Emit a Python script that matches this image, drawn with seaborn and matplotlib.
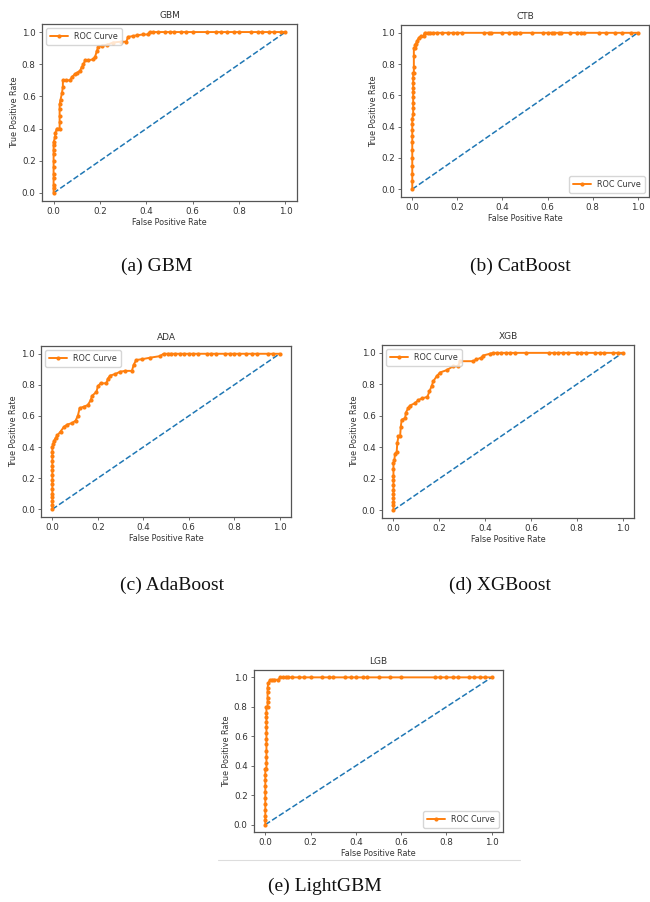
#--------------------------------------------
# ROC curves for the five boosting models,
# laid out as a 2-2-1 figure with captions.
#--------------------------------------------

import matplotlib
matplotlib.use("Agg")
import matplotlib.pyplot as plt
import seaborn as sns
from matplotlib.lines import Line2D

#--------------------DATA----------------------------

# (false positive rate, true positive rate)

gbm_points = [(0, 0), (0, 0.03), (0, 0.05), (0, 0.09), (0, 0.12), (0, 0.16),
              (0, 0.2), (0, 0.24), (0, 0.27), (0, 0.3), (0, 0.315),
              (0.007, 0.35), (0.007, 0.37), (0.014, 0.40), (0.026, 0.40),
              (0.026, 0.44), (0.026, 0.48), (0.026, 0.52), (0.026, 0.55),
              (0.03, 0.58), (0.036, 0.62), (0.04, 0.66), (0.04, 0.70),
              (0.055, 0.70), (0.071, 0.70), (0.079, 0.72), (0.093, 0.74),
              (0.10, 0.745), (0.114, 0.76), (0.121, 0.78), (0.129, 0.80),
              (0.136, 0.825), (0.15, 0.825), (0.171, 0.83), (0.179, 0.846),
              (0.186, 0.88), (0.193, 0.91), (0.21, 0.915), (0.229, 0.92),
              (0.257, 0.935), (0.29, 0.94), (0.314, 0.94), (0.321, 0.97),
              (0.343, 0.975), (0.36, 0.98), (0.386, 0.985), (0.407, 0.985),
              (0.414, 1.0), (0.43, 1.0), (0.45, 1.0), (0.48, 1.0), (0.5, 1.0),
              (0.52, 1.0), (0.55, 1.0), (0.57, 1.0), (0.6, 1.0), (0.66, 1.0),
              (0.7, 1.0), (0.72, 1.0), (0.75, 1.0), (0.78, 1.0), (0.8, 1.0),
              (0.85, 1.0), (0.88, 1.0), (0.9, 1.0), (0.93, 1.0), (0.95, 1.0),
              (0.98, 1.0), (1.0, 1.0)]

ctb_points = [(0, 0), (0, 0.05), (0, 0.1), (0, 0.15), (0, 0.2), (0, 0.25),
              (0, 0.3), (0, 0.34), (0, 0.38), (0, 0.42), (0, 0.45),
              (0.004, 0.48), (0.004, 0.52), (0.004, 0.55), (0.004, 0.59),
              (0.004, 0.62), (0.004, 0.65), (0.004, 0.68), (0.004, 0.71),
              (0.004, 0.74), (0.007, 0.74), (0.007, 0.78), (0.007, 0.85),
              (0.007, 0.90), (0.012, 0.90), (0.012, 0.92), (0.016, 0.93),
              (0.022, 0.95), (0.03, 0.97), (0.04, 0.98), (0.05, 0.98),
              (0.055, 1.0), (0.07, 1.0), (0.08, 1.0), (0.09, 1.0), (0.11, 1.0),
              (0.13, 1.0), (0.16, 1.0), (0.18, 1.0), (0.2, 1.0), (0.22, 1.0),
              (0.32, 1.0), (0.34, 1.0), (0.35, 1.0), (0.4, 1.0), (0.43, 1.0),
              (0.45, 1.0), (0.46, 1.0), (0.48, 1.0), (0.53, 1.0), (0.58, 1.0),
              (0.6, 1.0), (0.62, 1.0), (0.63, 1.0), (0.65, 1.0), (0.66, 1.0),
              (0.7, 1.0), (0.73, 1.0), (0.75, 1.0), (0.76, 1.0), (0.83, 1.0),
              (0.86, 1.0), (0.9, 1.0), (0.93, 1.0), (0.97, 1.0), (1.0, 1.0)]

ada_points = [(0, 0), (0, 0.03), (0, 0.05), (0, 0.08), (0, 0.1), (0, 0.13),
              (0, 0.16), (0, 0.19), (0, 0.22), (0, 0.25), (0, 0.28),
              (0, 0.31), (0, 0.34), (0, 0.37), (0, 0.40), (0.004, 0.42),
              (0.007, 0.44), (0.015, 0.46), (0.022, 0.475), (0.036, 0.50),
              (0.051, 0.53), (0.066, 0.545), (0.088, 0.555), (0.102, 0.57),
              (0.112, 0.60), (0.12, 0.65), (0.139, 0.66), (0.156, 0.67),
              (0.168, 0.70), (0.175, 0.73), (0.194, 0.755), (0.20, 0.79),
              (0.212, 0.81), (0.238, 0.81), (0.244, 0.84), (0.255, 0.86),
              (0.277, 0.87), (0.299, 0.885), (0.321, 0.89), (0.35, 0.89),
              (0.358, 0.93), (0.369, 0.96), (0.394, 0.965), (0.431, 0.975),
              (0.474, 0.985), (0.489, 1.0), (0.51, 1.0), (0.52, 1.0),
              (0.54, 1.0), (0.56, 1.0), (0.58, 1.0), (0.6, 1.0), (0.62, 1.0),
              (0.64, 1.0), (0.68, 1.0), (0.7, 1.0), (0.72, 1.0), (0.76, 1.0),
              (0.78, 1.0), (0.8, 1.0), (0.82, 1.0), (0.85, 1.0), (0.88, 1.0),
              (0.9, 1.0), (0.95, 1.0), (0.97, 1.0), (1.0, 1.0)]

xgb_points = [(0, 0), (0, 0.03), (0, 0.05), (0, 0.08), (0, 0.1), (0, 0.13),
              (0, 0.16), (0, 0.19), (0, 0.22), (0, 0.26), (0, 0.30),
              (0.004, 0.32), (0.007, 0.36), (0.014, 0.37), (0.017, 0.43),
              (0.022, 0.47), (0.029, 0.47), (0.032, 0.53), (0.036, 0.575),
              (0.051, 0.585), (0.054, 0.62), (0.065, 0.65), (0.072, 0.665),
              (0.094, 0.68), (0.109, 0.70), (0.123, 0.71), (0.148, 0.72),
              (0.157, 0.755), (0.167, 0.79), (0.174, 0.82), (0.188, 0.85),
              (0.203, 0.875), (0.232, 0.89), (0.261, 0.915), (0.283, 0.915),
              (0.29, 0.947), (0.348, 0.947), (0.362, 0.958), (0.384, 0.97),
              (0.391, 0.983), (0.42, 0.994), (0.435, 1.0), (0.45, 1.0),
              (0.47, 1.0), (0.49, 1.0), (0.51, 1.0), (0.53, 1.0), (0.58, 1.0),
              (0.68, 1.0), (0.7, 1.0), (0.72, 1.0), (0.74, 1.0), (0.76, 1.0),
              (0.8, 1.0), (0.82, 1.0), (0.84, 1.0), (0.88, 1.0), (0.9, 1.0),
              (0.92, 1.0), (0.96, 1.0), (0.98, 1.0), (1.0, 1.0)]

lgb_points = [(0, 0), (0, 0.03), (0, 0.06), (0, 0.1), (0, 0.14), (0, 0.18),
              (0, 0.22), (0, 0.26), (0, 0.30), (0, 0.34), (0, 0.38),
              (0.005, 0.38), (0.005, 0.42), (0.005, 0.46), (0.005, 0.5),
              (0.005, 0.55), (0.005, 0.58), (0.005, 0.62), (0.005, 0.66),
              (0.005, 0.70), (0.005, 0.73), (0.005, 0.76), (0.005, 0.80),
              (0.01, 0.80), (0.01, 0.83), (0.01, 0.86), (0.01, 0.9),
              (0.01, 0.93), (0.013, 0.96), (0.02, 0.98), (0.03, 0.984),
              (0.04, 0.984), (0.058, 0.984), (0.065, 1.0), (0.08, 1.0),
              (0.09, 1.0), (0.1, 1.0), (0.12, 1.0), (0.15, 1.0), (0.17, 1.0),
              (0.2, 1.0), (0.25, 1.0), (0.28, 1.0), (0.3, 1.0), (0.35, 1.0),
              (0.38, 1.0), (0.4, 1.0), (0.43, 1.0), (0.45, 1.0), (0.5, 1.0),
              (0.55, 1.0), (0.6, 1.0), (0.75, 1.0), (0.77, 1.0), (0.8, 1.0),
              (0.83, 1.0), (0.85, 1.0), (0.9, 1.0), (0.92, 1.0), (0.95, 1.0),
              (0.97, 1.0), (1.0, 1.0)]

titles = ["GBM", "CTB", "ADA", "XGB", "LGB"]
captions = ["(a) GBM", "(b) CatBoost", "(c) AdaBoost", "(d) XGBoost", "(e) LightGBM"]
legend_locs = ["upper left", "lower right", "upper left", "upper left", "lower right"]
ticks = [0.0, 0.2, 0.4, 0.6, 0.8, 1.0]

#--------------------LAYOUT--------------------------

W, H = 650, 902

# frame boxes in pixels: left, top, right, bottom
boxes = [(42, 24, 297, 201),
         (401, 25, 649, 197),
         (41, 346, 291, 517),
         (382, 345, 634, 518),
         (254, 670, 503, 832)]

caption_pos = [(157, 266), (520, 266), (172, 585), (500, 585), (325, 886)]

#--------------------PLOT----------------------------

sns.set_style("ticks", {"axes.edgecolor": "#555555",
                        "xtick.color": "#555555", "ytick.color": "#555555"})
plt.rcParams['font.family'] = ['DejaVu Sans']

fig = plt.figure(figsize=(W / 100, H / 100), dpi=100)

all_points = [gbm_points, ctb_points, ada_points, xgb_points, lgb_points]

for pts, title, loc, box in zip(all_points, titles, legend_locs, boxes):
    l, t, r, b = box
    ax = fig.add_axes([l / W, 1 - b / H, (r - l) / W, (b - t) / H])

    fpr = [p[0] for p in pts]
    tpr = [p[1] for p in pts]

    # no-skill diagonal
    sns.lineplot(x=[0, 1], y=[0, 1], ax=ax, color="#1f77b4",
                 linestyle="--", linewidth=1.1)
    sns.lineplot(x=fpr, y=tpr, ax=ax, color="#ff7f0e", marker=".",
                 markersize=6, markeredgewidth=0, linewidth=1.4,
                 sort=False, estimator=None, label="ROC Curve")

    ax.set_xticks(ticks)
    ax.set_yticks(ticks)
    ax.set_xlim(-0.05, 1.05)
    ax.set_ylim(-0.05, 1.05)
    ax.tick_params(labelsize=6.3, length=2.5, width=0.6, pad=2,
                   labelcolor="#333333")
    for s in ax.spines.values():
        s.set_linewidth(0.9)
    ax.set_title(title, fontsize=6.5, color="#333333", pad=4)
    ax.set_xlabel("False Positive Rate", fontsize=5.8, color="#333333", labelpad=1)
    ax.set_ylabel("True Positive Rate", fontsize=5.8, color="#333333", labelpad=2)
    ax.legend(loc=loc, fontsize=5.8, frameon=True, borderpad=0.5,
              handlelength=2.2, labelcolor="#333333")

for text, (cx, cy) in zip(captions, caption_pos):
    fig.text(cx / W, 1 - cy / H, text, ha="center", va="center",
             fontsize=14, family="Liberation Serif", color="#111111")

# faint rule under the last panel
fig.add_artist(Line2D([218 / W, 520 / W], [1 - 860 / H, 1 - 860 / H],
                      color="#dddddd", linewidth=0.8))

plt.savefig("out.png", dpi=100)
